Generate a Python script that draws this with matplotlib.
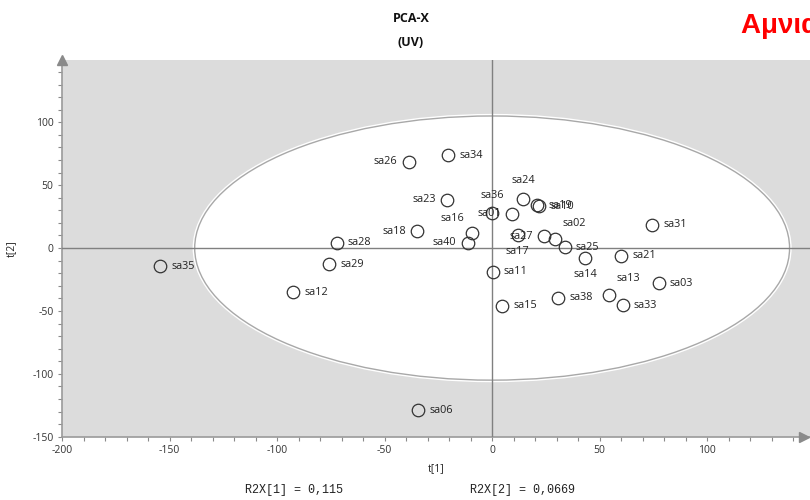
import matplotlib
matplotlib.use("Agg")
import matplotlib.pyplot as plt
from matplotlib.patches import Ellipse
from matplotlib.ticker import MultipleLocator

plt.rcParams["axes.unicode_minus"] = False

# PCA score values (t[1], t[2]) per sample
samples = ["sa35", "sa12", "sa29", "sa28", "sa26", "sa34", "sa23", "sa18",
           "sa16", "sa40", "sa36", "sa01", "sa24", "sa19", "sa10", "sa17",
           "sa27", "sa02", "sa25", "sa14", "sa21", "sa31", "sa03", "sa13",
           "sa33", "sa38", "sa15", "sa11", "sa06"]
t1 = [-154.3, -92.4, -75.8, -72.2, -38.8, -20.5, -21.0, -34.8,
      -9.2, -11.4, 0.0, 9.4, 14.5, 21.0, 21.8, 11.8,
      24.2, 29.3, 33.8, 43.4, 60.1, 74.3, 77.5, 54.5,
      60.7, 30.7, 4.8, 0.3, -34.3]
t2 = [-14.3, -35.0, -12.9, 4.4, 68.8, 73.9, 38.5, 13.5,
      11.7, 4.3, 27.6, 27.3, 39.0, 34.2, 33.1, 10.3,
      9.5, 6.9, 0.8, -7.7, -6.1, 18.5, -27.8, -37.1,
      -45.6, -39.5, -45.8, -18.8, -128.8]

# Hotelling T2 ellipse semi-axes
ellipse_t1 = 138.3
ellipse_t2 = 105.0

r2x = ["R2X[1] = 0,115", "R2X[2] = 0,0669"]

# label placement: (dx, dy) in points, horizontal alignment
RIGHT = (8, 0, "left")
LEFT = (-8, 0, "right")
ABOVE = (0, 13, "center")
BELOW = (0, -12, "center")
label_pos = {s: RIGHT for s in samples}
label_pos.update({
    "sa26": LEFT, "sa23": LEFT, "sa18": LEFT, "sa40": LEFT, "sa01": LEFT,
    "sa27": LEFT, "sa16": (-6, 11, "right"), "sa36": ABOVE, "sa24": ABOVE,
    "sa17": BELOW, "sa14": BELOW, "sa02": (14, 11.5, "center"),
    "sa13": (14, 11.5, "center"),
})

W, H = 810, 500
fig = plt.figure(figsize=(W / 100, H / 100), dpi=100)
ax = fig.add_axes([62 / W, 63 / H, (W - 62) / W, 377 / H])
ax.set_facecolor("#dcdcdc")
ax.set_xlim(-200, 147.8)
ax.set_ylim(-150.2, 149.5)

ax.add_patch(Ellipse((0, 0), 2 * ellipse_t1, 2 * ellipse_t2, facecolor="white",
                     edgecolor="white", lw=3, zorder=1))
ax.add_patch(Ellipse((0, 0), 2 * ellipse_t1, 2 * ellipse_t2, facecolor="none",
                     edgecolor="#a8a8a8", lw=1.0, zorder=2))
ax.axhline(0, color="#808080", lw=1, zorder=3)
ax.axvline(0, color="#808080", lw=1, zorder=3)

ax.plot(t1, t2, "o", ms=9, mfc="none", mec="#333333", mew=0.9, zorder=5)

for s, x, y in zip(samples, t1, t2):
    dx, dy, ha = label_pos[s]
    ax.annotate(s, (x, y), xytext=(dx, dy), textcoords="offset points",
                ha=ha, va="center", fontsize=7.8, color="#222222",
                family="Open Sans", zorder=6)

for side in ("top", "right"):
    ax.spines[side].set_visible(False)
for side in ("left", "bottom"):
    ax.spines[side].set_color("#9a9a9a")
    ax.spines[side].set_linewidth(1.2)

ax.xaxis.set_major_locator(MultipleLocator(50))
ax.xaxis.set_minor_locator(MultipleLocator(10))
ax.yaxis.set_major_locator(MultipleLocator(50))
ax.yaxis.set_minor_locator(MultipleLocator(10))
ax.tick_params(which="both", direction="out", color="#8a8a8a", length=3,
               width=0.8, labelsize=7.5, labelcolor="#333333", pad=3)
for lbl in ax.get_xticklabels() + ax.get_yticklabels():
    lbl.set_family("Open Sans")

# axis arrow heads
ax.plot(0, 1, "^", transform=ax.transAxes, clip_on=False, ms=7,
        color="#8a8a8a", zorder=7)
ax.plot(0.992, 0, ">", transform=ax.transAxes, clip_on=False, ms=7,
        color="#8a8a8a", zorder=7)

ax.set_xlabel("t[1]", fontsize=7.5, family="Open Sans", color="#222222",
              labelpad=5)
ax.set_ylabel("t[2]", fontsize=7.5, family="Open Sans", color="#222222")
ax.yaxis.set_label_coords(-(62 - 17) / (W - 62), 0.5)

fig.text(411 / W, 1 - 18 / H, "PCA-X", ha="center", va="center",
         fontsize=9, fontweight="bold", family="Open Sans", color="#111111")
fig.text(411 / W, 1 - 42 / H, "(UV)", ha="center", va="center",
         fontsize=9, fontweight="bold", family="Open Sans", color="#111111")
fig.text(741 / W, 1 - 33 / H, "Αμνιακό υγρό", ha="left", va="baseline",
         fontsize=20, fontweight="bold", family="Liberation Sans",
         color="#ff0000")

fig.text(245 / W, 1 - 490 / H, r2x[0], ha="left", va="center",
         fontsize=8.5, family="Liberation Mono", color="#222222")
fig.text(470 / W, 1 - 490 / H, r2x[1], ha="left", va="center",
         fontsize=8.5, family="Liberation Mono", color="#222222")

fig.savefig("out.png", dpi=100)
